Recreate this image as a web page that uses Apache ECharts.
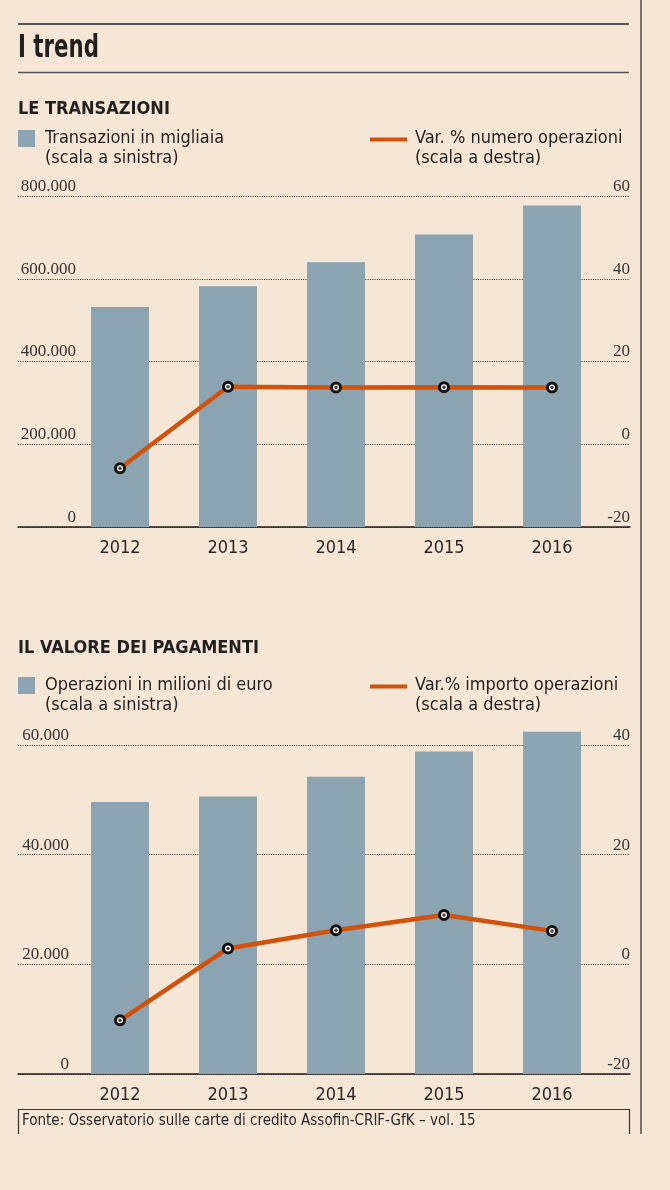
<!DOCTYPE html>
<html>
<head>
<meta charset="utf-8">
<script src="https://cdn.jsdelivr.net/npm/echarts@6/dist/echarts.min.js"></script>
<style>
html,body{margin:0;padding:0;background:#F5E6D5;}
#c{width:670px;height:1190px;}
</style>
</head>
<body>
<div id="c"></div>
<script>
// ---- data ----
const years = ['2012', '2013', '2014', '2015', '2016'];
// Chart 1: LE TRANSAZIONI
const transazioni = [531700, 581700, 639700, 706700, 776800];   // migliaia (scala a sinistra)
const varNumero = [-5.8, 13.9, 13.7, 13.8, 13.7];              // % (scala a destra)
const leftTicks1 = [0, 200000, 400000, 600000, 800000];
const rightTicks1 = [-20, 0, 20, 40, 60];
// Chart 2: IL VALORE DEI PAGAMENTI
const operazioni = [49600, 50600, 54200, 58800, 62400];         // milioni di euro (scala a sinistra)
const varImporto = [-10.2, 2.9, 6.2, 9.0, 6.1];                // % (scala a destra)
const leftTicks2 = [0, 20000, 40000, 60000];
const rightTicks2 = [-20, 0, 20, 40];

// ---- styling ----
const BG = '#F5E6D5';
const BAR = '#8CA4B1';
const ORANGE = '#D0520C';
const INK = '#231F1C';
const SANS = "'Liberation Sans Narrow', 'DejaVu Sans Condensed', 'Roboto', sans-serif";
const SERIF = "'Liberation Serif', 'DejaVu Serif', serif";

function fmtIt(v) {
  return String(v).replace(/\B(?=(\d{3})+(?!\d))/g, '.');
}

const chart = echarts.init(document.getElementById('c'), null, {renderer: 'canvas'});

function panel(idx, top, bottom, leftT, rightT, labelOffset) {
  const step = leftT[1] - leftT[0];
  const rstep = rightT[1] - rightT[0];
  const g0 = idx * 2, g1 = idx * 2 + 1;
  const grids = [
    {left: 18, right: 40, top: top, bottom: bottom},
    {left: 66, right: 64, top: top, bottom: bottom}
  ];
  const xAxes = [
    {type: 'value', gridIndex: g0, min: 0, max: 1, show: true,
     axisLine: {show: true, onZero: false, lineStyle: {color: INK, width: 1.5}},
     axisTick: {show: false}, axisLabel: {show: false}, splitLine: {show: false}},
    {type: 'category', gridIndex: g1, data: years,
     axisLine: {show: false}, axisTick: {show: false},
     axisLabel: {margin: 12, fontFamily: SANS, fontSize: 18, color: '#2b2724'}}
  ];
  const yAxes = [
    {type: 'value', gridIndex: g0, position: 'left', offset: -labelOffset,
     min: leftT[0], max: leftT[leftT.length - 1], interval: step,
     axisLine: {show: false}, axisTick: {show: false},
     axisLabel: {margin: 0, verticalAlign: 'bottom', align: 'right', padding: [0, 0, 1, 0],
                 fontFamily: SERIF, fontSize: 17, color: '#3a3431', formatter: fmtIt},
     splitLine: {show: true, lineStyle: {color: '#2e2926', type: [1, 1.3], width: 1}}},
    {type: 'value', gridIndex: g0, position: 'right',
     min: rightT[0], max: rightT[rightT.length - 1], interval: rstep,
     axisLine: {show: false}, axisTick: {show: false},
     axisLabel: {inside: true, margin: 0, verticalAlign: 'bottom', padding: [0, 0, 1, 0],
                 fontFamily: SERIF, fontSize: 17, color: '#3a3431'},
     splitLine: {show: false}},
    {type: 'value', gridIndex: g1, show: false,
     min: leftT[0], max: leftT[leftT.length - 1], interval: step},
    {type: 'value', gridIndex: g1, show: false, position: 'right',
     min: rightT[0], max: rightT[rightT.length - 1], interval: rstep}
  ];
  return {grids, xAxes, yAxes};
}

const p1 = panel(0, 196, 1190 - 527, leftTicks1, rightTicks1, 58);
const p2 = panel(1, 745, 1190 - 1074, leftTicks2, rightTicks2, 51);

function seriesFor(idx, bars, line, barName, lineName) {
  const xi = idx * 2 + 1;
  const yb = idx * 4 + 2, yl = idx * 4 + 3;
  return [
    {name: barName, type: 'bar', xAxisIndex: xi, yAxisIndex: yb, data: bars,
     barWidth: 58, clip: false, itemStyle: {color: BAR}, z: 2, silent: true},
    {name: lineName, type: 'line', xAxisIndex: xi, yAxisIndex: yl, data: line,
     symbol: 'circle', symbolSize: 9, showAllSymbol: true,
     lineStyle: {color: ORANGE, width: 4.5},
     itemStyle: {color: '#ffffff', borderColor: '#141210', borderWidth: 3},
     z: 3, silent: true, animation: false},
    {type: 'scatter', xAxisIndex: xi, yAxisIndex: yl, data: line,
     symbol: 'circle', symbolSize: 3.5, itemStyle: {color: '#141210'}, z: 4, silent: true}
  ];
}

function legendBlock(y, barText1, lineText1) {
  return [
    {type: 'rect', shape: {x: 18, y: y, width: 17, height: 17}, style: {fill: BAR}},
    {type: 'text', left: 45, top: y - 2, style: {text: barText1 + '\n(scala a sinistra)',
      fontFamily: SANS, fontSize: 18, lineHeight: 20, fill: INK}},
    {type: 'rect', shape: {x: 370, y: y + 7.5, width: 37, height: 4}, style: {fill: ORANGE}},
    {type: 'text', left: 415, top: y - 2, style: {text: lineText1 + '\n(scala a destra)',
      fontFamily: SANS, fontSize: 18, lineHeight: 20, fill: INK}}
  ];
}

const graphics = [
  // page right rule
  {type: 'line', shape: {x1: 641, y1: 0, x2: 641, y2: 1134}, style: {stroke: '#2a2522', lineWidth: 1.2}},
  // title rules
  {type: 'line', shape: {x1: 18, y1: 24, x2: 629, y2: 24}, style: {stroke: '#5a544f', lineWidth: 2}},
  {type: 'line', shape: {x1: 18, y1: 72.5, x2: 629, y2: 72.5}, style: {stroke: '#5a544f', lineWidth: 1.5}},
  {type: 'text', x: 18, y: 33, scaleX: 0.74, originX: 0, originY: 0,
   style: {text: 'I trend', x: 0, y: 0, fontFamily: SANS, fontSize: 32,
    fontWeight: 'bold', fill: INK, textAlign: 'left', textVerticalAlign: 'top', verticalAlign: 'top'}},
  {type: 'text', left: 18, top: 100, style: {text: 'LE TRANSAZIONI', fontFamily: SANS, fontSize: 18,
    fontWeight: 'bold', fill: INK}},
  ...legendBlock(130, 'Transazioni in migliaia', 'Var. % numero operazioni'),
  {type: 'text', left: 18, top: 639, style: {text: 'IL VALORE DEI PAGAMENTI', fontFamily: SANS, fontSize: 18,
    fontWeight: 'bold', fill: INK}},
  ...legendBlock(677, 'Operazioni in milioni di euro', 'Var.% importo operazioni'),
  // source box
  {type: 'polyline', shape: {points: [[18.5, 1134], [18.5, 1109.5], [629.5, 1109.5], [629.5, 1134]]},
   style: {stroke: '#3a3431', lineWidth: 1.2, fill: null}},
  {type: 'text', left: 22, top: 1114, style: {text: 'Fonte: Osservatorio sulle carte di credito Assofin-CRIF-GfK \u2013 vol. 15',
    fontFamily: SANS, fontSize: 15, fill: '#2b2724'}}
];

chart.setOption({
  backgroundColor: BG,
  animation: false,
  grid: [...p1.grids, ...p2.grids],
  xAxis: [...p1.xAxes, ...p2.xAxes],
  yAxis: [...p1.yAxes, ...p2.yAxes],
  series: [
    ...seriesFor(0, transazioni, varNumero, 'Transazioni in migliaia', 'Var. % numero operazioni'),
    ...seriesFor(1, operazioni, varImporto, 'Operazioni in milioni di euro', 'Var.% importo operazioni')
  ],
  graphic: graphics
});
</script>
</body>
</html>
